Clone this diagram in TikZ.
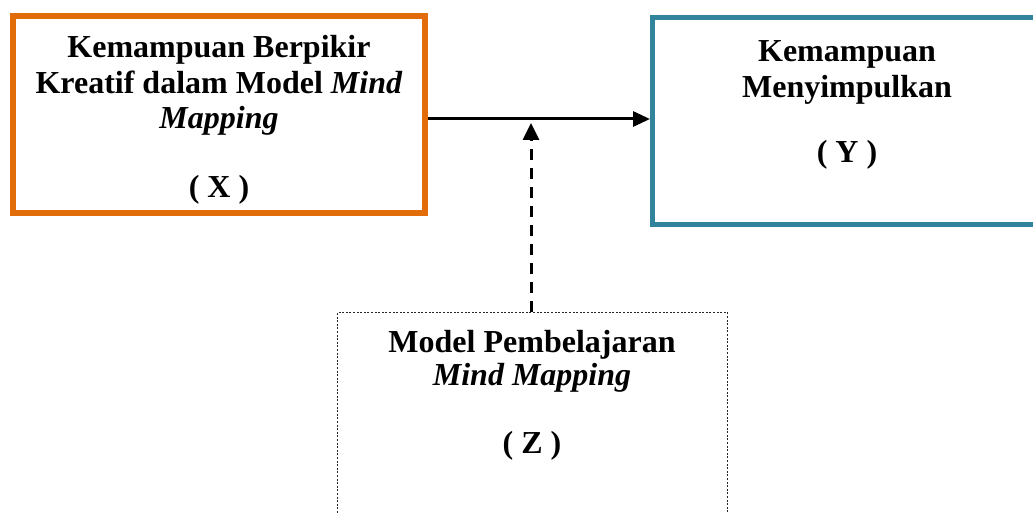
\documentclass[tikz,border=0pt]{standalone}
\usepackage{fontspec}
\setmainfont{Liberation Serif}
\usetikzlibrary{arrows.meta}
\definecolor{boxorange}{HTML}{E36C0A}
\definecolor{boxteal}{HTML}{31849B}
\tikzset{
  frame/.style={draw, rectangle, inner sep=0pt, fill=none},
  xframe/.style={frame, draw=boxorange, line width=6pt, minimum width=412pt, minimum height=197pt},
  yframe/.style={frame, draw=boxteal, line width=5pt, minimum width=389pt, minimum height=207pt},
  zframe/.style={frame, draw=black!85, line width=1pt, dash pattern=on 2pt off 1.6pt, minimum width=390pt, minimum height=227.5pt},
  label/.style={anchor=base, inner sep=0pt, font=\fontsize{32}{36}\selectfont\bfseries},
  mainarrow/.style={line width=3pt, -{Triangle[length=17pt,width=15pt]}},
  dasharrow/.style={line width=3pt, dash pattern=on 11pt off 8pt, -{Triangle[length=17pt,width=16pt]}}
}
\begin{document}
\begin{tikzpicture}[x=1pt,y=-1pt]
\useasboundingbox (0,0) rectangle (1033,513);
\node[xframe] (X) at (219,114.5) {};
\node[yframe] (Y) at (847,121) {};
\node[zframe] (Z) at (532.5,426.25) {};
% texts of X
\node[label] (x1) at (219,58) {Kemampuan Berpikir};
\node[label] (x2) at (219,94) {Kreatif dalam Model \textit{Mind}};
\node[label] (x3) at (219,129) {\textit{Mapping}};
\node[label] (x4) at (219,197) {( X )};
% texts of Y
\node[label] (y1) at (847,62) {Kemampuan};
\node[label] (y2) at (847,98) {Menyimpulkan};
\node[label] (y3) at (847,163) {( Y )};
% texts of Z
\node[label] (z1) at (532,352.5) {Model Pembelajaran};
\node[label] (z2) at (532,385) {\textit{Mind Mapping}};
\node[label] (z3) at (532,453) {( Z )};
% connectors
\coordinate (mid) at (531,119);
\coordinate (tip) at (531,123);
\draw[mainarrow] (X.east |- mid) -- (Y.west |- mid);
\draw[dasharrow] (Z.north -| tip) -- (tip);
\end{tikzpicture}
\end{document}
